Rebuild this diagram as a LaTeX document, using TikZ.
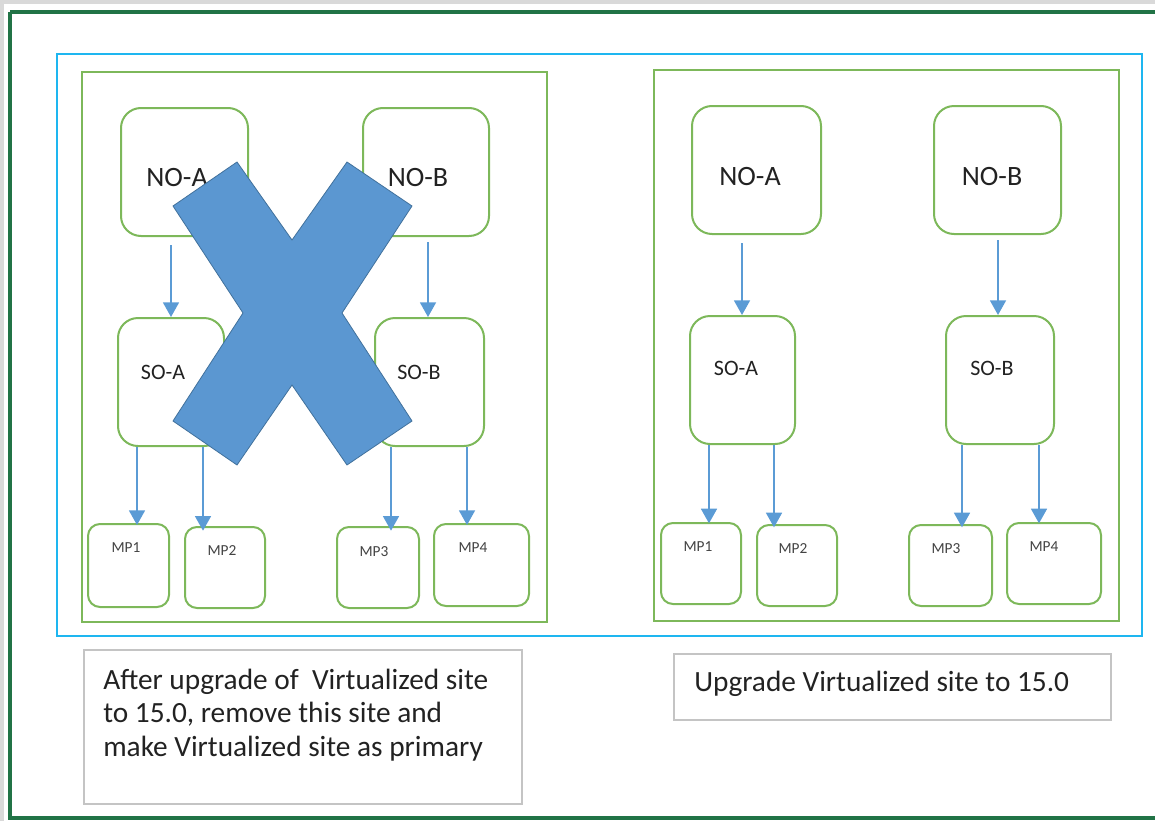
\documentclass[tikz,border=0pt]{standalone}
\usepackage{fontspec}
\setmainfont{Carlito}
\usetikzlibrary{arrows.meta}
\definecolor{boxgreen}{HTML}{7DB85A}
\definecolor{cyanframe}{HTML}{1EB6F0}
\definecolor{outergreen}{HTML}{217346}
\definecolor{arrowblue}{HTML}{5B9BD5}
\definecolor{xfill}{HTML}{5B97D1}
\definecolor{xdraw}{HTML}{41719C}
\definecolor{graybox}{HTML}{C4C4C4}
\definecolor{txt}{HTML}{222222}
\begin{document}
\begin{tikzpicture}[x=0.75pt,y=-0.75pt,
  gbox/.style={draw=boxgreen,line width=1.5pt,rounded corners=15pt,fill=white,inner sep=0pt},
  mpbox/.style={draw=boxgreen,line width=1.5pt,rounded corners=9pt,fill=white,inner sep=0pt},
  arr/.style={draw=arrowblue,line width=1.3pt,-{Triangle[width=12pt,length=11pt]}},
  big/.style={font=\fontsize{21}{25}\selectfont,text=txt,inner sep=0pt},
  mid/.style={font=\fontsize{16.5}{20}\selectfont,text=txt,inner sep=0pt},
  small/.style={font=\fontsize{11.5}{14}\selectfont,text=txt!85,inner sep=0pt},
  note/.style={font=\fontsize{22}{25}\selectfont,text=txt,inner sep=0pt,align=left,anchor=north west},
  notebox/.style={draw=graybox,line width=1.3pt,inner sep=0pt}
]
\useasboundingbox (0,0) rectangle (1155,821);
% screenshot gray strips
\fill[gray!30] (0,0) rectangle (1155,4);
\fill[gray!30] (0,0) rectangle (4,821);
% outer frame
\draw[outergreen,line width=3pt] (10,12) -- (1160,12);
\draw[outergreen,line width=3pt] (10,12) -- (10,818) -- (1160,818);
% cyan frame
\node[draw=cyanframe,line width=1.6pt,inner sep=0pt,minimum width=813.75pt,minimum height=436.5pt] (frame) at (599.5,345) {};
% site containers
\node[draw=boxgreen,line width=1.6pt,inner sep=0pt,minimum width=348.75pt,minimum height=412.5pt] (siteL) at (314.5,347) {};
\node[draw=boxgreen,line width=1.6pt,inner sep=0pt,minimum width=348.75pt,minimum height=413.25pt] (siteR) at (886.5,345.5) {};

% ---------- left site ----------
\node[gbox,minimum width=95.25pt,minimum height=96pt] (noaL) at (184.5,172) {};
\node[gbox,minimum width=94.5pt,minimum height=96pt] (nobL) at (426,172) {};
\node[gbox,minimum width=79.5pt,minimum height=96pt] (soaL) at (171,382) {};
\node[gbox,minimum width=81.75pt,minimum height=96pt] (sobL) at (429.5,382) {};
\node[mpbox,minimum width=60.75pt,minimum height=62.25pt] (mp1L) at (128.5,565.5) {};
\node[mpbox,minimum width=60pt,minimum height=60.75pt] (mp2L) at (225,567.5) {};
\node[mpbox,minimum width=61.5pt,minimum height=60.75pt] (mp3L) at (378,567.5) {};
\node[mpbox,minimum width=71.25pt,minimum height=61.5pt] (mp4L) at (481.5,565) {};
\node[big] (tnoaL) at (177,178) {NO-A};
\node[big] (tnobL) at (418,178) {NO-B};
\node[mid] (tsoaL) at (163,372) {SO-A};
\node[mid] (tsobL) at (419,372) {SO-B};
\node[small] (tmp1L) at (126,548) {MP1};
\node[small] (tmp2L) at (222,551) {MP2};
\node[small] (tmp3L) at (374,552) {MP3};
\node[small] (tmp4L) at (473,548) {MP4};
\coordinate (xa) at (171,0);
\coordinate (xb) at (428,0);
\coordinate (x1) at (137,0);
\coordinate (x2) at (203,0);
\coordinate (x3) at (391,0);
\coordinate (x4) at (467,0);
\draw[arr,shorten <=6pt] (xa |- noaL.south) -- (xa |- soaL.north);
\draw[arr,shorten <=4pt] (xb |- nobL.south) -- (xb |- sobL.north);
\draw[arr] (x1 |- soaL.south) -- ([yshift=-1.5pt]x1 |- mp1L.north);
\draw[arr] (x2 |- soaL.south) -- ([yshift=-3.5pt]x2 |- mp2L.north);
\draw[arr] (x3 |- sobL.south) -- ([yshift=-3.5pt]x3 |- mp3L.north);
\draw[arr] (x4 |- sobL.south) -- ([yshift=-1.5pt]x4 |- mp4L.north);
% big cross
\filldraw[fill=xfill,draw=xdraw,line width=0.6pt]
  (173,206) -- (237,162) -- (292,240) -- (347,162) -- (412,206) -- (342,313)
  -- (412,421) -- (347,465) -- (292,385) -- (237,465) -- (173,421) -- (243,313) -- cycle;

% ---------- right site ----------
\node[gbox,minimum width=96.75pt,minimum height=96pt] (noaR) at (756.5,170) {};
\node[gbox,minimum width=95.25pt,minimum height=96pt] (nobR) at (997.5,170) {};
\node[gbox,minimum width=78.75pt,minimum height=96pt] (soaR) at (742.5,380) {};
\node[gbox,minimum width=81pt,minimum height=96pt] (sobR) at (1000,380) {};
\node[mpbox,minimum width=60pt,minimum height=60.75pt] (mp1R) at (701,563.5) {};
\node[mpbox,minimum width=60pt,minimum height=60.75pt] (mp2R) at (797,565.5) {};
\node[mpbox,minimum width=62.25pt,minimum height=60.75pt] (mp3R) at (950.5,565.5) {};
\node[mpbox,minimum width=70.5pt,minimum height=60.75pt] (mp4R) at (1054,563.5) {};
\node[big] (tnoaR) at (750,177) {NO-A};
\node[big] (tnobR) at (992,177) {NO-B};
\node[mid] (tsoaR) at (736,368) {SO-A};
\node[mid] (tsobR) at (992,368) {SO-B};
\node[small] (tmp1R) at (698,547) {MP1};
\node[small] (tmp2R) at (793,549) {MP2};
\node[small] (tmp3R) at (946,549) {MP3};
\node[small] (tmp4R) at (1044,547) {MP4};
\coordinate (ya) at (742,0);
\coordinate (yb) at (998,0);
\coordinate (y1) at (709,0);
\coordinate (y2) at (774,0);
\coordinate (y3) at (962,0);
\coordinate (y4) at (1039,0);
\draw[arr,shorten <=6pt] (ya |- noaR.south) -- (ya |- soaR.north);
\draw[arr,shorten <=4pt] (yb |- nobR.south) -- (yb |- sobR.north);
\draw[arr] (y1 |- soaR.south) -- ([yshift=-1pt]y1 |- mp1R.north);
\draw[arr] (y2 |- soaR.south) -- ([yshift=-2.5pt]y2 |- mp2R.north);
\draw[arr] (y3 |- sobR.south) -- ([yshift=-2.5pt]y3 |- mp3R.north);
\draw[arr] (y4 |- sobR.south) -- ([yshift=-1pt]y4 |- mp4R.north);

% ---------- notes ----------
\node[notebox,minimum width=328.5pt,minimum height=115.5pt] (noteL) at (303,727) {};
\node[note] (tnoteL) at (103,669) {After upgrade of~ Virtualized site\\to 15.0, remove this site and\\make Virtualized site as primary};
\node[notebox,minimum width=327.75pt,minimum height=49.5pt] (noteR) at (892.5,687) {};
\node[note] (tnoteR) at (694,671) {Upgrade Virtualized site to 15.0};
\end{tikzpicture}
\end{document}
